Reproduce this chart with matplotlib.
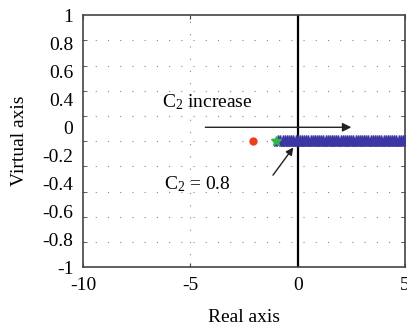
import numpy as np
import matplotlib.pyplot as plt

plt.rcParams.update({
    'font.family': 'Liberation Serif',
    'mathtext.fontset': 'custom',
    'mathtext.rm': 'Liberation Serif',
    'mathtext.it': 'Liberation Serif:italic',
    'font.size': 14,
})

# dados
red_x = [-2.1]
red_y = [0.0]
green_x = [-1.0]
green_y = [0.0]
blue_x = [-0.9, -0.8, -0.7, -0.6, -0.5, -0.4, -0.3, -0.2, -0.1, 0.0,
          0.1, 0.2, 0.3, 0.4, 0.5, 0.6, 0.7, 0.8, 0.9, 1.0,
          1.1, 1.2, 1.3, 1.4, 1.5, 1.6, 1.7, 1.8, 1.9, 2.0,
          2.1, 2.2, 2.3, 2.4, 2.5, 2.6, 2.7, 2.8, 2.9, 3.0,
          3.1, 3.2, 3.3, 3.4, 3.5, 3.6, 3.7, 3.8, 3.9, 4.0,
          4.1, 4.2, 4.3, 4.4, 4.5, 4.6, 4.7, 4.8, 4.9, 5.0]
blue_y = [0.0] * len(blue_x)

x_ticks = [-10, -5, 0, 5]
y_grid = [-1, -0.8, -0.6, -0.4, -0.2, 0, 0.2, 0.4, 0.6, 0.8, 1]
y_labels = ['1', '0.8', '0.6', '0.4', '0', '-0.2', '-0.4', '-0.6', '-0.8', '-1']

fig = plt.figure(figsize=(4.07, 3.29), dpi=100)
ax = fig.add_axes([0.204, 0.188, 0.791, 0.766])

ax.set_xlim(-10, 5)
ax.set_ylim(-1, 1)

# grade pontilhada
for yv in y_grid[1:-1]:
    ax.axhline(yv, color='#888888', lw=0.8, ls=(0, (1, 10)), zorder=1)
ax.axvline(-5, color='#888888', lw=0.8, ls=(0, (1, 10)), zorder=1)
ax.axvline(0, color='black', lw=1.6, zorder=2)

ax.plot(blue_x, blue_y, ls='none', marker='*', ms=9, color='#3b36a3', zorder=3)
ax.plot(green_x, green_y, ls='none', marker='*', ms=7, color='#2fb84a', zorder=4)
ax.plot(red_x, red_y, ls='none', marker='o', ms=5, color='#e8401c', zorder=4)

# setas e textos
ax.annotate('', xy=(2.5, 0.11), xytext=(-4.3, 0.11),
            arrowprops=dict(arrowstyle='-|>', color='#222222', lw=1.0,
                            mutation_scale=13, shrinkA=0, shrinkB=0))
ax.text(-6.3, 0.31, r'C$_2$ increase', fontsize=14, va='center', ha='left')
ax.annotate('', xy=(-0.2, -0.05), xytext=(-1.15, -0.27),
            arrowprops=dict(arrowstyle='-|>', color='#222222', lw=1.0,
                            mutation_scale=11, shrinkA=0, shrinkB=0))
ax.text(-6.25, -0.34, r'C$_2$ = 0.8', fontsize=14, va='center', ha='left')

ax.set_xticks(x_ticks)
ax.set_xticklabels([str(v) for v in x_ticks])
ax.set_yticks(np.linspace(1, -1, len(y_labels)))
ax.set_yticklabels(y_labels)
ax.set_yticks(y_grid, minor=True)
ax.tick_params(axis='y', which='major', length=0, pad=7)
ax.tick_params(axis='y', which='minor', direction='in', length=3,
               left=True, right=True, color='#444444')
ax.tick_params(axis='x', direction='in', length=3, top=True, pad=7,
               color='#444444')

for s in ax.spines.values():
    s.set_color('#444444')
    s.set_linewidth(1.2)

ax.set_xlabel('Real axis', labelpad=11)
ax.set_ylabel('Virtual axis', labelpad=10)

fig.savefig('out.png', dpi=100)
